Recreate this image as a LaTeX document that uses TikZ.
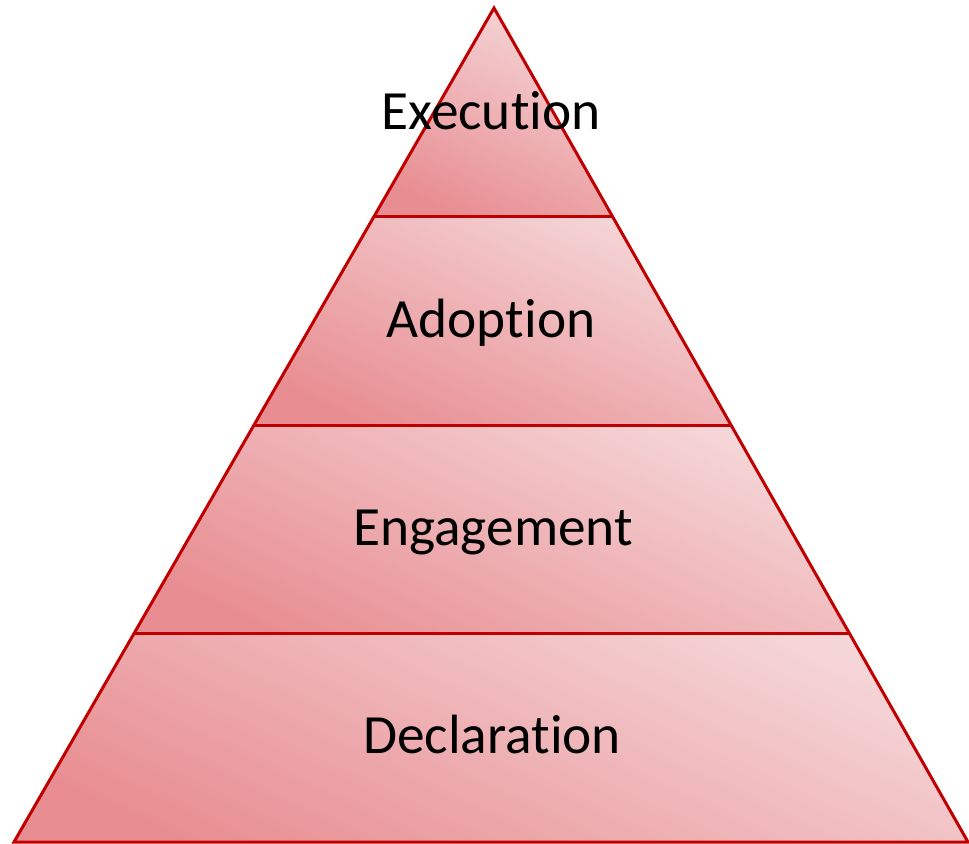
\documentclass[tikz,border=0pt]{standalone}
\usepackage{fontspec}
\setmainfont[Ligatures=NoCommon]{Carlito}
\usetikzlibrary{calc}

\definecolor{bandedge}{RGB}{192,0,0}
\definecolor{bandlight}{RGB}{245,214,216}
\definecolor{banddark}{RGB}{232,142,146}

\tikzset{
  band/.style={top color=bandlight, bottom color=banddark, shading angle=-25},
  edge/.style={draw=bandedge, line width=0.06cm, line join=miter},
  level/.style={font=\fontsize{31.5}{31.5}\selectfont, anchor=base}
}

\begin{document}
\begin{tikzpicture}[x=0.02cm, y=-0.02cm]
  \useasboundingbox (0,0) rectangle (969,844);

  \coordinate (top) at (494,8);
  \coordinate (bl) at (14,842);
  \coordinate (br) at (968,842);

  % split points on both sides
  \foreach \i/\t in {0/0, 1/0.25, 2/0.5, 3/0.75, 4/1} {
    \coordinate (l\i) at ($(top)!\t!(bl)$);
    \coordinate (r\i) at ($(top)!\t!(br)$);
  }

  % shaded bands
  \foreach \i [count=\j] in {0,...,3} {
    \shade[band] (l\i) -- (r\i) -- (r\j) -- (l\j) -- cycle;
  }

  \draw[edge] (top) -- (br) -- (bl) -- cycle;
  \foreach \i in {1,2,3} {
    \draw[edge] (l\i) -- (r\i);
  }

  \node[level] (exec) at (491,130) {Execution};
  \node[level] (adopt) at (491,337) {Adoption};
  \node[level] (engage) at (493,545) {Engagement};
  \node[level] (decl) at (492,753) {Declaration};
\end{tikzpicture}
\end{document}
